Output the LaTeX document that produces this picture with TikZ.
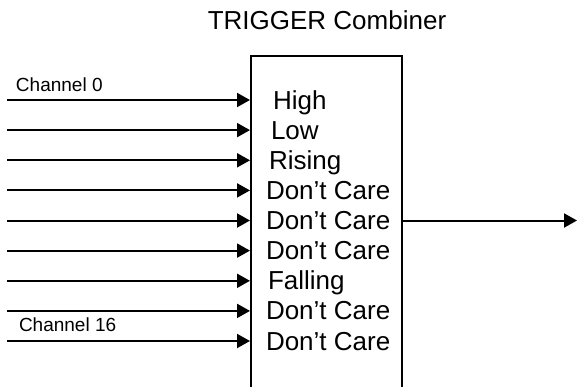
\documentclass[tikz,border=0pt]{standalone}
\usepackage{fontspec}
\setmainfont{Liberation Sans}
\usetikzlibrary{arrows.meta,positioning}
\begin{document}
\begin{tikzpicture}[x=1pt, y=-1pt, line width=2pt,
  sig/.style={-{Triangle[length=13pt,width=14pt]}},
  chan/.style={font=\fontsize{19}{22}\selectfont, anchor=base west, inner sep=0pt},
  cond/.style={font=\fontsize{26}{30}\selectfont, anchor=base west, inner sep=0pt}]
\useasboundingbox (0,0) rectangle (577,386);
\node (comb) [draw, shape=rectangle, anchor=north west, inner sep=0pt,
  minimum width=151pt, minimum height=350pt] at (250,55) {};
\node (title) [font=\fontsize{26}{30}\selectfont, anchor=base] at (327,29) {TRIGGER Combiner};
\coordinate (in0) at (7,100);
\coordinate (in1) at (7,130.1);
\coordinate (in2) at (7,160.3);
\coordinate (in3) at (7,190.4);
\coordinate (in4) at (7,220.5);
\coordinate (in5) at (7,250.6);
\coordinate (in6) at (7,280.8);
\coordinate (in7) at (7,310.9);
\coordinate (in8) at (7,341);
\coordinate (out) at (577,220.5);
\node (ch0) [chan] at (15,91) {Channel 0};
\node (ch16) [chan] at (18,331) {Channel 16};
\node (c0) [cond] at (272,109) {High};
\node (c1) [cond] at (270,139.1) {Low};
\node (c2) [cond] at (268,169.3) {Rising};
\node (c3) [cond] at (265,199.4) {Don't Care};
\node (c4) [cond] at (265,229.5) {Don't Care};
\node (c5) [cond] at (265,259.6) {Don't Care};
\node (c6) [cond] at (267,289.8) {Falling};
\node (c7) [cond] at (265,319.9) {Don't Care};
\node (c8) [cond] at (265,350) {Don't Care};
\draw[sig] (in0) -- (in0 -| comb.west);
\draw[sig] (in1) -- (in1 -| comb.west);
\draw[sig] (in2) -- (in2 -| comb.west);
\draw[sig] (in3) -- (in3 -| comb.west);
\draw[sig] (in4) -- (in4 -| comb.west);
\draw[sig] (in5) -- (in5 -| comb.west);
\draw[sig] (in6) -- (in6 -| comb.west);
\draw[sig] (in7) -- (in7 -| comb.west);
\draw[sig] (in8) -- (in8 -| comb.west);
\draw[sig] (comb.east |- out) -- (out);
\end{tikzpicture}
\end{document}
